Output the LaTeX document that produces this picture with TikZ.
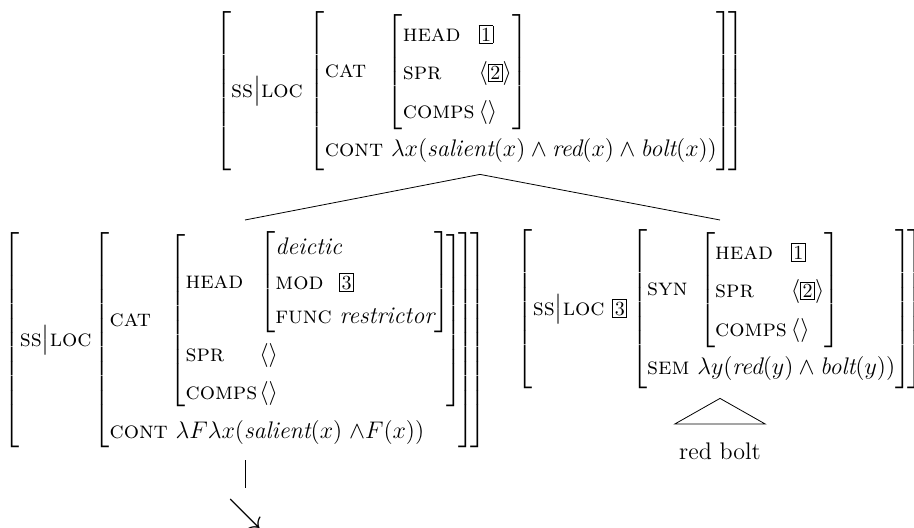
\documentclass[12pt,tikz,border=0pt]{standalone}
\usepackage{amsmath}
\usepackage{amssymb}
\usepackage{tikz}
\usetikzlibrary{positioning}
\renewcommand{\arraystretch}{1.33}
\newcommand{\tg}[1]{{\setlength{\fboxsep}{0.8pt}\fbox{\footnotesize #1}}}
\newcommand{\ft}[1]{\textsc{#1}}
\tikzset{avm/.style = {inner sep = 0, outer sep = 5pt}}
\tikzset{topavm/.style = {avm, outer sep = 2pt}}
\tikzset{word/.style = {inner xsep = 0, inner ysep = 9pt}}

\begin{document}
\begin{tikzpicture}[x = 0.5pt, y = -0.5pt]
      \useasboundingbox (0, 0) rectangle (914, 528);
      \node [topavm, anchor = north] (mother) at (480, 8) {$\left[\begin{array}{@{}l@{\hspace{3pt}}l@{\hspace{-2pt}}}
        \ft{ss}\big|\ft{loc} & \left[\begin{array}{@{}l@{}}
          \makebox[29pt][l]{\ft{cat}}\left[\begin{array}{@{}l@{\hspace{2pt}}l@{}}
            \ft{head} & \tg{1}\\
            \ft{spr} & \left\langle\tg{2}\right\rangle\\
            \ft{comps} & \langle\rangle
          \end{array}\right]\\
          \ft{cont}\ \lambda x(\textit{salient}(x) \wedge \textit{red}(x) \wedge \textit{bolt}(x))
        \end{array}\right]
      \end{array}\right]$};

      \node [avm, anchor = north] (adj) at (245, 220) {$\left[\begin{array}{@{}l@{\hspace{1pt}}l@{\hspace{-2pt}}}
        \ft{ss}\big|\ft{loc} & \left[\begin{array}{@{}l@{\hspace{-2pt}}}
          \makebox[28pt][l]{\ft{cat}}\left[\begin{array}{@{}l@{\hspace{1pt}}l@{\hspace{-2pt}}}
            \ft{head} & \renewcommand{\arraystretch}{1.2}\left[\begin{array}{@{}l@{}}
              \textit{deictic}\\
              \ft{mod}\ \ \tg{3}\\
              \ft{func}\ \textit{restrictor}
            \end{array}\right]\\
            \ft{spr} & \langle\rangle\\
            \ft{comps} & \langle\rangle
          \end{array}\right]\\
          \ft{cont}\ \lambda F\lambda x(\textit{salient}(x)\;{\wedge}F(x))
        \end{array}\right]
      \end{array}\right]$};

      \node [avm, anchor = north] (head) at (720, 220) {$\left[\begin{array}{@{}l@{\hspace{-2pt}}}
        \ft{ss}\big|\ft{loc}\ \tg{3}\left[\begin{array}{@{}l@{}}
          \makebox[24pt][l]{\ft{syn}}\left[\begin{array}{@{}l@{\hspace{2pt}}l@{}}
            \ft{head} & \tg{1}\\
            \ft{spr} & \left\langle\tg{2}\right\rangle\\
            \ft{comps} & \langle\rangle
          \end{array}\right]\\
          \ft{sem}\ \lambda y(\textit{red}(y) \wedge \textit{bolt}(y))
        \end{array}\right]
      \end{array}\right]$};

      \node [word, anchor = north] (redbolt) at (720, 424) {red bolt};
      \coordinate (stem) at (245, 488);
      \node [inner sep = 0, scale = 1.4] (down) at (245, 514) {$\searrow$};

      \draw (mother.south) -- (adj.north);
      \draw (mother.south) -- (head.north);
      \draw (head.south) -- ([xshift = -2pt]redbolt.north west) -- ([xshift = 2pt]redbolt.north east) -- cycle;
      \draw (adj.south) -- (stem);
    \end{tikzpicture}
\end{document}
